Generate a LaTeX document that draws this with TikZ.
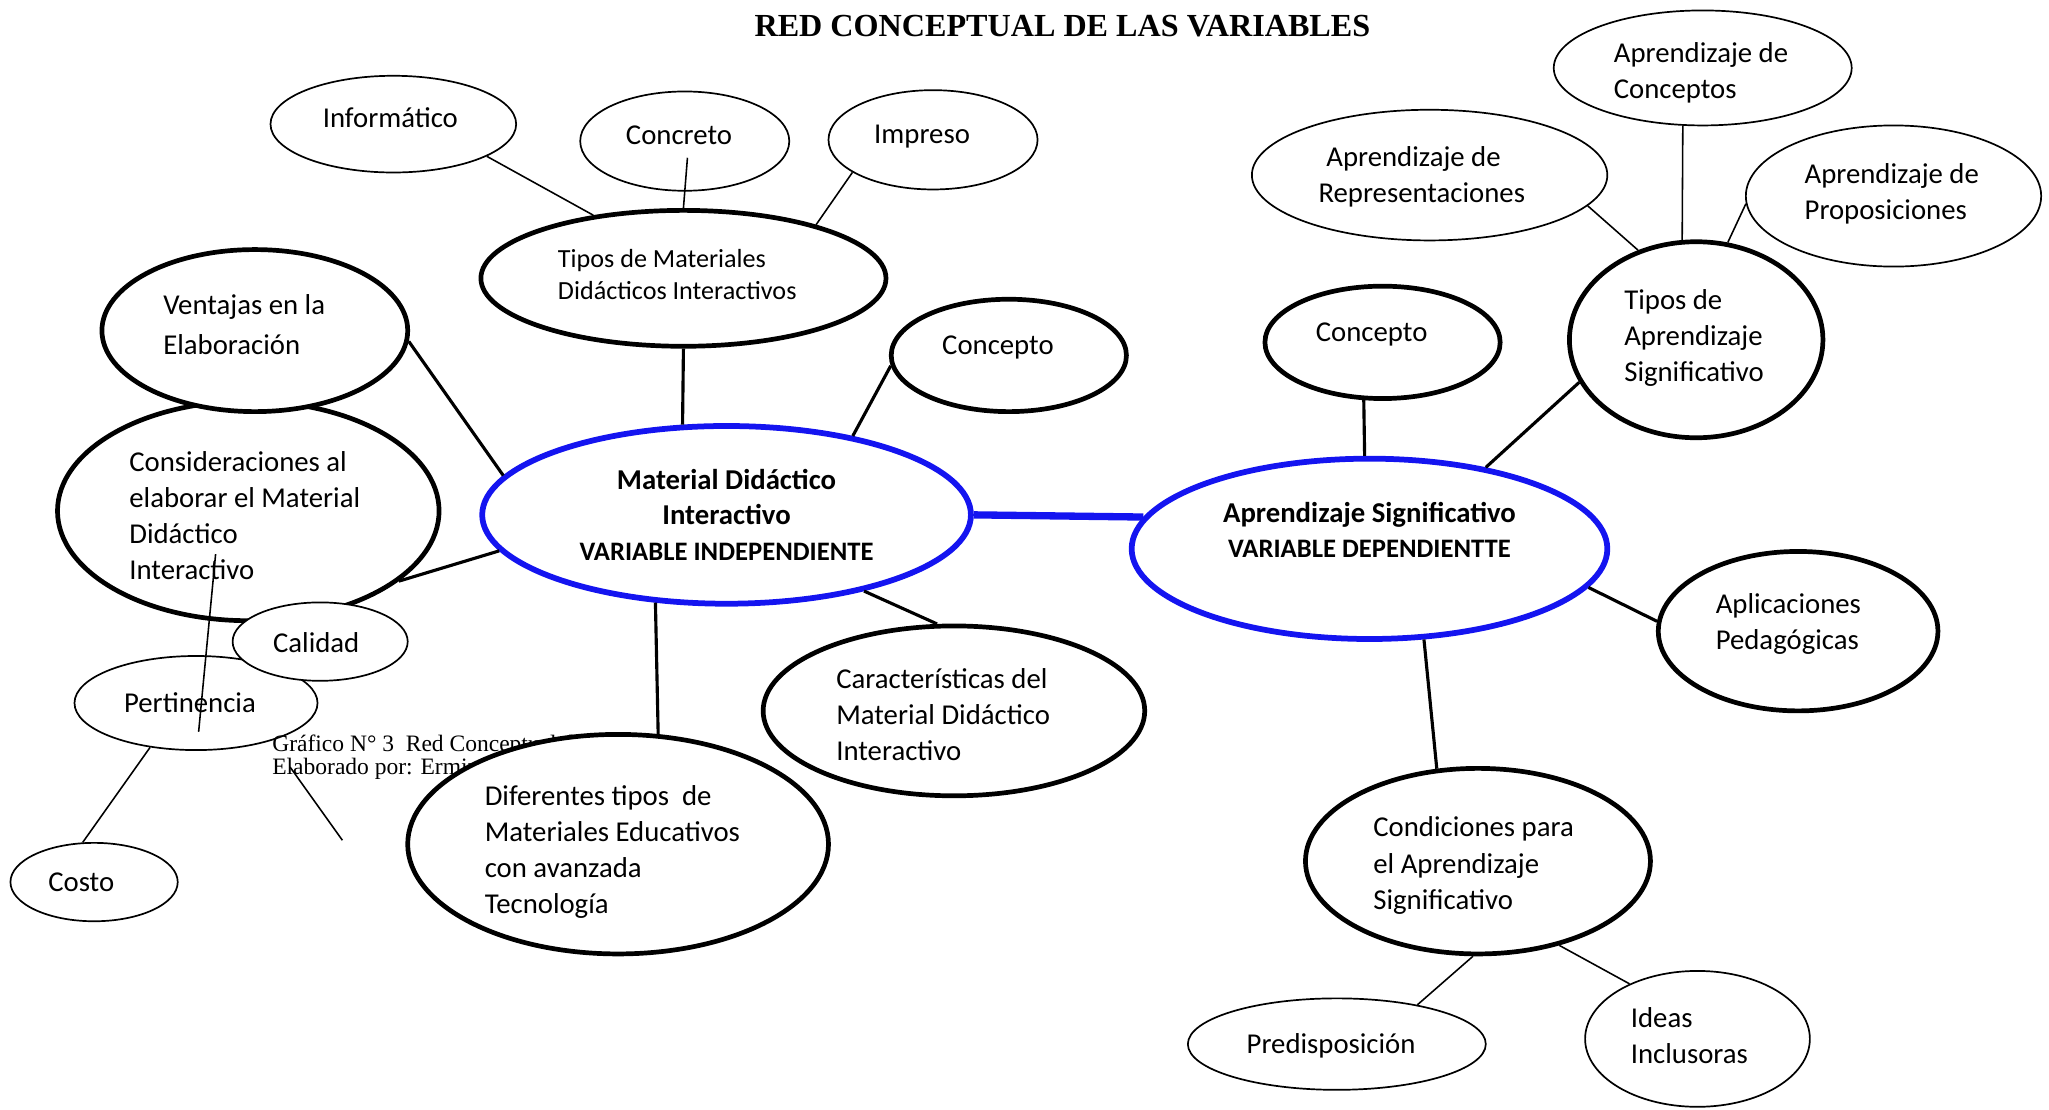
\documentclass[tikz,border=0pt]{standalone}
\usepackage{fontspec}
\setmainfont{Carlito}
\newfontfamily\titlefont{Liberation Serif}
\usetikzlibrary{shapes.geometric}
\definecolor{varblue}{RGB}{20,20,240}

\begin{document}
\begin{tikzpicture}[
  x=0.5pt, y=-0.5pt,
  dims/.style 2 args={minimum width=#1pt, minimum height=#2pt},
  tw/.style={text width=#1pt},
  txtup/.style={text height=0pt, text depth=#1pt},
  txtdown/.style={text height=#1pt, text depth=0pt},
  bubble/.style={ellipse, draw, line width=1.8pt, fill=white, inner sep=0pt, align=flush left, font=\fontsize{11}{13.8}\selectfont},
  smallbubble/.style={ellipse, draw, line width=0.65pt, fill=white, inner sep=0pt, align=flush left, font=\fontsize{11}{13.8}\selectfont},
  varbubble/.style={ellipse, draw=varblue, line width=2.2pt, fill=white, inner sep=0pt, align=center, font=\bfseries\fontsize{11}{13.5}\selectfont},
  link/.style={line width=1.2pt},
  thinlink/.style={line width=0.6pt},
  varlink/.style={draw=varblue, line width=2.8pt}
]
\useasboundingbox (0,0) rectangle (1568,849);

\node[font=\titlefont\bfseries\fontsize{12.3}{14}\selectfont] (titulo) at (813,20) {RED CONCEPTUAL DE LAS VARIABLES};

\node[bubble, dims={146}{84}, tw=91, txtup=30.5] (consid) at (190,391) {Consideraciones al\\elaborar el Material\\Didáctico\\Interactivo};
\node[bubble, dims={117}{62}, tw=70, txtup=12.5, font=\fontsize{11}{15.5}\selectfont] (ventajas) at (195,253) {Ventajas en la\\Elaboración};
\node[smallbubble, dims={93}{36}, tw=55, txtdown=7.5] (pertin) at (150,538) {Pertinencia};
\node[smallbubble, dims={67}{30}, tw=36, txtdown=8.5] (calidad) at (245,491) {Calidad};
\node[smallbubble, dims={64}{30}, tw=35, txtdown=7.5] (costo) at (72,675) {Costo};
\node[anchor=base west, align=left, inner sep=0pt, font=\titlefont\fontsize{9}{8.8}\selectfont] (grafico) at (208,593) {Gráfico N° 3\ \ Red Conceptual d\\Elaborado por: Ermini};
\node[bubble, dims={161}{84}, tw=102, txtup=29.5] (diferentes) at (473,646) {Diferentes tipos\ \ de\\Materiales Educativos\\con avanzada\\Tecnología};

\node[bubble, dims={155}{52}, tw=96, txtup=8.5, font=\fontsize{10}{12.5}\selectfont] (tiposmat) at (523,213) {Tipos de Materiales\\Didácticos Interactivos};
\node[smallbubble, dims={94}{37}, tw=54, txtdown=2.5] (informatico) at (301,95) {Informático};
\node[smallbubble, dims={80}{38}, tw=45, txtdown=2.5] (concreto) at (524,108) {Concreto};
\node[smallbubble, dims={80}{38}, tw=45, txtdown=2.5] (impreso) at (714,107) {Impreso};
\node[bubble, dims={90}{43}, tw=51, txtup=0.5] (conceptoI) at (772,272) {Concepto};
\node[varbubble, dims={187}{68}] (matdid) at (556,394) {Material Didáctico\\Interactivo\\{\fontsize{10.2}{12}\selectfont VARIABLE INDEPENDIENTE}};
\node[bubble, dims={146}{65}, tw=90, txtup=17.5] (caract) at (730,544) {Características del\\Material Didáctico\\Interactivo};

\node[varbubble, dims={182}{69}, txtdown=7] (aprsig) at (1048,420) {Aprendizaje Significativo\\{\fontsize{10.2}{12}\selectfont VARIABLE DEPENDIENTTE}};
\node[bubble, dims={90}{43}, tw=51, txtup=0.5] (conceptoD) at (1058,262) {Concepto};
\node[bubble, dims={97}{75}, tw=55, txtup=23.5] (tiposapr) at (1298,260) {Tipos de\\Aprendizaje\\Significativo};
\node[smallbubble, dims={114}{44}, tw=68, txtup=4.5] (aprconc) at (1303,52) {Aprendizaje de\\Conceptos};
\node[smallbubble, dims={136}{50}, tw=85, txtup=6.5] (aprrep) at (1094,134) {\hspace*{3pt}Aprendizaje de\\Representaciones};
\node[smallbubble, dims={113}{54}, tw=68, txtup=9.5] (aprprop) at (1449,150) {Aprendizaje de\\Proposiciones};
\node[bubble, dims={107}{61}, tw=63, txtup=13.5] (aplic) at (1376,483) {Aplicaciones\\Pedagógicas};
\node[bubble, dims={132}{71}, tw=80, txtup=18.5] (condic) at (1131,659) {Condiciones para\\el Aprendizaje\\Significativo};
\node[smallbubble, dims={114}{35}, tw=69, txtdown=7.5] (predisp) at (1023,799) {Predisposición};
\node[smallbubble, dims={86}{52}, tw=51, txtup=8.5] (ideas) at (1299,795) {Ideas\\Inclusoras};

\coordinate (trazoA) at (165,424);
\coordinate (trazoB) at (152,560);
\coordinate (trazoC) at (222,587);
\coordinate (trazoD) at (262,643);

\draw[thinlink] (informatico.-19) -- (tiposmat.145);
\draw[thinlink, shorten <=-13pt] (concreto.south) -- (tiposmat.north);
\draw[thinlink] (impreso.202) -- (tiposmat.22);
\draw[link] (tiposmat.south) -- (matdid.116);
\draw[link] (conceptoI.185) -- (matdid.32);
\draw[link] (ventajas.-4) -- (matdid.170);
\draw[link] (consid.-25) -- (matdid.189);
\draw[link] (matdid.231) -- (diferentes.70);
\draw[link] (matdid.-29) -- (caract.101);
\draw[varlink] (matdid.east) -- (aprsig.172);
\draw[link] (conceptoD.-108) -- (aprsig.93);
\draw[link] (tiposapr.200) -- (aprsig.35);
\draw[thinlink] (aprrep.-11) -- (tiposapr.123);
\draw[thinlink] (aprconc.-109) -- (tiposapr.98);
\draw[thinlink] (aprprop.183) -- (tiposapr.72);
\draw[link] (aprsig.-10) -- (aplic.176);
\draw[link] (aprsig.-59) -- (condic.114);
\draw[thinlink] (condic.-93) -- (predisp.26);
\draw[thinlink] (condic.-46) -- (ideas.141);
\draw[thinlink] (pertin.-136) -- (costo.106);
\draw[thinlink] (trazoA) -- (trazoB);
\draw[thinlink] (trazoC) -- (trazoD);
\end{tikzpicture}
\end{document}
